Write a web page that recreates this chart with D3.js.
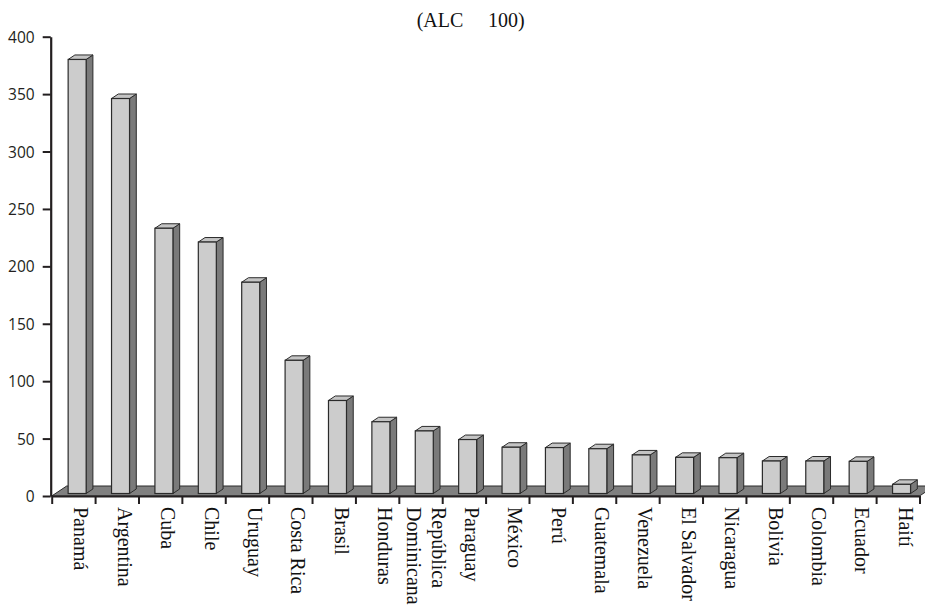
<!DOCTYPE html>
<html>
<head>
<meta charset="utf-8">
<script src="https://cdn.jsdelivr.net/npm/d3@7/dist/d3.min.js"></script>
<style>
  html, body { margin: 0; padding: 0; background: #ffffff; }
  svg { display: block; }
</style>
</head>
<body>
<svg id="chart" width="925" height="609"></svg>
<script>
// Index per country (ALC = 100)
const countries = ["Panamá", "Argentina", "Cuba", "Chile", "Uruguay", "Costa Rica", "Brasil",
  "Honduras", "República Dominicana", "Paraguay", "México", "Perú", "Guatemala", "Venezuela",
  "El Salvador", "Nicaragua", "Bolivia", "Colombia", "Ecuador", "Haití"];
const values = [378, 344, 231, 219, 184, 116, 81, 62.5, 54.5, 47, 40.3, 40, 39, 33.6,
  31.5, 31.2, 28.3, 28.3, 28, 8];
const yTicks = [0, 50, 100, 150, 200, 250, 300, 350, 400];
const titleParts = ["(ALC", "100)"];

const svg = d3.select("#chart");
const ink = "#231f20";

// plot frame
const x0 = 51.7, x1 = 919.5;
const yBase = 496, yTop = 36.7;

const x = d3.scaleBand().domain(countries).range([x0, x1]).padding(0);
const idx = d3.scaleLinear().domain([0, countries.length]).range([x0, x1]);
const y = d3.scaleLinear().domain([0, 400]).range([yBase, yTop]);

// 3-D depth of the floor and of each column
const floorDx = 15, floorDy = -10;
const frontT = 0.25, backT = 0.7;
const fdx = floorDx * frontT, fdy = floorDy * frontT;
const ddx = floorDx * (backT - frontT), ddy = floorDy * (backT - frontT);
const barW = x.bandwidth() * 0.415;

// floor
svg.append("path")
  .attr("d", `M${x0},${yBase} L${x1},${yBase} L${x1 + floorDx},${yBase + floorDy} L${x0 + floorDx},${yBase + floorDy} Z`)
  .attr("fill", "#808080")
  .attr("stroke", "#2b2b2b")
  .attr("stroke-width", 1);

// columns
const bars = svg.append("g").selectAll("g")
  .data(countries.map((c, i) => ({ c, v: values[i] })))
  .join("g");

bars.each(function(d) {
  const g = d3.select(this);
  const xl = x(d.c) + (x.bandwidth() - barW) / 2 + fdx;
  const xr = xl + barW;
  const yb = y(0) + fdy;
  const yt = y(d.v) + fdy;
  // side face
  g.append("path")
    .attr("d", `M${xr},${yb} L${xr + ddx},${yb + ddy} L${xr + ddx},${yt + ddy} L${xr},${yt} Z`)
    .attr("fill", "#7a7a7a").attr("stroke", "#2b2b2b").attr("stroke-width", 1)
    .attr("stroke-linejoin", "round");
  // top face
  g.append("path")
    .attr("d", `M${xl},${yt} L${xr},${yt} L${xr + ddx},${yt + ddy} L${xl + ddx},${yt + ddy} Z`)
    .attr("fill", "#c4c4c4").attr("stroke", "#2b2b2b").attr("stroke-width", 1)
    .attr("stroke-linejoin", "round");
  // front face
  g.append("rect")
    .attr("x", xl).attr("y", yt)
    .attr("width", barW).attr("height", yb - yt)
    .attr("fill", "#cccccc").attr("stroke", "#2b2b2b").attr("stroke-width", 1.2);
});

// value axis
const yAxis = svg.append("g")
  .attr("transform", `translate(${x0 - 1},0)`)
  .call(d3.axisLeft(y).tickValues(yTicks).tickSizeInner(8).tickSizeOuter(0).tickPadding(8));
yAxis.select(".domain").attr("stroke", ink).attr("stroke-width", 2.2);
yAxis.selectAll(".tick line").attr("stroke", ink).attr("stroke-width", 2);
yAxis.selectAll(".tick text")
  .attr("font-family", "'Open Sans', sans-serif")
  .attr("font-size", 15.5)
  .attr("fill", ink)
  .attr("dy", "0.36em");

// category axis
const xAxis = svg.append("g")
  .attr("transform", `translate(0,${yBase})`)
  .call(d3.axisBottom(idx).tickValues(d3.range(countries.length + 1))
    .tickFormat("").tickSizeInner(8).tickSizeOuter(0));
xAxis.select(".domain").attr("stroke", ink).attr("stroke-width", 2.2);
xAxis.selectAll(".tick line").attr("stroke", ink).attr("stroke-width", 2);

// rotated category labels
const labels = svg.append("g").selectAll("text")
  .data(countries)
  .join("text")
  .attr("transform", d => `translate(${x(d) + x.bandwidth() / 2},507) rotate(90)`)
  .attr("font-family", "'Liberation Serif', 'Times New Roman', serif")
  .attr("font-size", 20)
  .attr("fill", "#111");

labels.each(function(d) {
  const t = d3.select(this);
  const words = d === "República Dominicana" ? ["República", "Dominicana"] : [d];
  if (words.length === 1) {
    t.append("tspan").attr("x", 0).attr("dy", -1).text(words[0]);
  } else {
    t.append("tspan").attr("x", 0).attr("dy", "-0.55em").text(words[0]);
    t.append("tspan").attr("x", 0).attr("dy", "1.25em").text(words[1]);
  }
});

// title
const title = svg.append("text")
  .attr("y", 27)
  .attr("font-family", "'Liberation Serif', 'Times New Roman', serif")
  .attr("font-size", 20)
  .attr("fill", "#111");
title.append("tspan").attr("x", 416.7).text(titleParts[0]);
title.append("tspan").attr("x", 488).text(titleParts[1]);
</script>
</body>
</html>
